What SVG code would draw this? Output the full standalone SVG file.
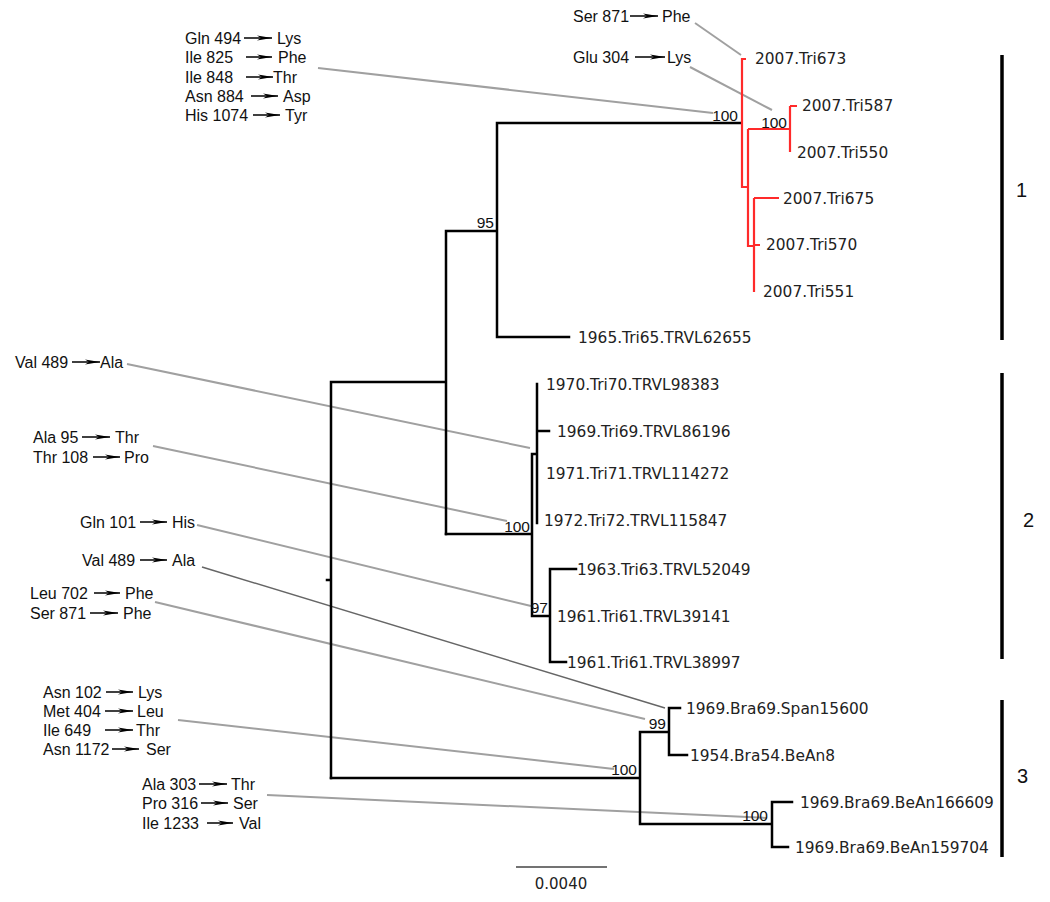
<svg xmlns="http://www.w3.org/2000/svg" width="1050" height="902" viewBox="0 0 1050 902">
<style>
.ann{font-family:"Liberation Sans",Arial,sans-serif;font-size:16px;fill:#111}
.tax{font-family:"DejaVu Sans",Verdana,sans-serif;font-size:15.4px;fill:#222}
.bs{font-family:"Liberation Sans",Arial,sans-serif;font-size:15.5px;fill:#111;text-anchor:end}
.cl{font-family:"Liberation Sans",Arial,sans-serif;font-size:20px;fill:#111}
.br{stroke:#000;stroke-width:2.5;fill:none;stroke-linecap:square}
.red{stroke:#ff2a2a;stroke-width:2.2;fill:none}
.con{stroke:#a0a0a0;stroke-width:2;fill:none}
.con2{stroke:#666;stroke-width:1.5;fill:none}
.arr{stroke:#000;stroke-width:1.5;marker-end:url(#ah)}
.bar{stroke:#000;stroke-width:3.5}
</style>
<defs>
<marker id="ah" markerUnits="userSpaceOnUse" markerWidth="15" markerHeight="8" refX="15" refY="4" orient="auto">
<path d="M0,1.5 L15,4 L0,6.5 L4,4 z" fill="#000"/>
</marker>
</defs>

<g id="connectors">
<line class="con" x1="318" y1="68" x2="713" y2="113"/>
<line class="con" x1="695" y1="23" x2="741" y2="55"/>
<line class="con" x1="690" y1="67" x2="772" y2="110"/>
<line class="con" x1="127" y1="364" x2="530" y2="448"/>
<line class="con" x1="153" y1="446" x2="507" y2="521"/>
<line class="con" x1="197" y1="525" x2="531" y2="606"/>
<line class="con2" x1="202" y1="567" x2="665" y2="708"/>
<line class="con" x1="155" y1="602" x2="645" y2="719"/>
<line class="con" x1="178" y1="720" x2="614" y2="769"/>
<line class="con" x1="267" y1="795" x2="767" y2="818"/>
</g>

<g id="tree">
<path class="br" d="M331,382 V778 M327,580 H331 M331,382 H446 M446,231 V534 M446,231 H497 M497,123 V337 M497,123 H741 M497,337 H569"/>
<path class="br" d="M446,534 H532 M532,454 V616 M532,454 H537 M537,384 V523 M537,431 H549 M532,616 H550 M550,569 V662 M550,569 H576 M550,662 H566"/>
<path class="br" d="M331,778 H640 M640,732 V824 M640,732 H669 M669,708 V755 M669,708 H680 M669,755 H687 M640,824 H772 M772,802 V847 M772,802 H792 M772,847 H788"/>
<path class="red" d="M746,59 H742 V187 H748 M748,129 V246 H754 M748,129 H790 M790,106 V152 M790,106 H797 M754,198 V292 M754,198 H779 M754,245 H760"/>
</g>

<g id="bootstrap">
<text class="bs" x="738" y="121">100</text>
<text class="bs" x="787" y="128">100</text>
<text class="bs" x="494" y="228">95</text>
<text class="bs" x="530" y="532">100</text>
<text class="bs" x="548" y="613">97</text>
<text class="bs" x="666" y="729">99</text>
<text class="bs" x="637" y="775">100</text>
<text class="bs" x="768" y="821">100</text>
</g>

<g id="taxa">
<text class="tax" x="755" y="64">2007.Tri673</text>
<text class="tax" x="802" y="111">2007.Tri587</text>
<text class="tax" x="797" y="158">2007.Tri550</text>
<text class="tax" x="783" y="204">2007.Tri675</text>
<text class="tax" x="766" y="250">2007.Tri570</text>
<text class="tax" x="763" y="297">2007.Tri551</text>
<text class="tax" x="578" y="343">1965.Tri65.TRVL62655</text>
<text class="tax" x="546" y="390">1970.Tri70.TRVL98383</text>
<text class="tax" x="557" y="437">1969.Tri69.TRVL86196</text>
<text class="tax" x="546" y="479">1971.Tri71.TRVL114272</text>
<text class="tax" x="544" y="526">1972.Tri72.TRVL115847</text>
<text class="tax" x="577" y="575">1963.Tri63.TRVL52049</text>
<text class="tax" x="557" y="622">1961.Tri61.TRVL39141</text>
<text class="tax" x="567" y="668">1961.Tri61.TRVL38997</text>
<text class="tax" x="686" y="714">1969.Bra69.Span15600</text>
<text class="tax" x="690" y="761">1954.Bra54.BeAn8</text>
<text class="tax" x="800" y="808">1969.Bra69.BeAn166609</text>
<text class="tax" x="795" y="853">1969.Bra69.BeAn159704</text>
</g>

<g id="annotations">
<text class="ann" x="185" y="44">Gln 494</text><line class="arr" x1="244" y1="38" x2="272" y2="38"/><text class="ann" x="277" y="44">Lys</text>
<text class="ann" x="185" y="63">Ile 825</text><line class="arr" x1="246" y1="57" x2="272" y2="57"/><text class="ann" x="278" y="63">Phe</text>
<text class="ann" x="185" y="83">Ile 848</text><line class="arr" x1="246" y1="77" x2="273" y2="77"/><text class="ann" x="273" y="83">Thr</text>
<text class="ann" x="185" y="102">Asn 884</text><line class="arr" x1="251" y1="96" x2="278" y2="96"/><text class="ann" x="283" y="102">Asp</text>
<text class="ann" x="185" y="121">His 1074</text><line class="arr" x1="253" y1="115" x2="280" y2="115"/><text class="ann" x="285" y="121">Tyr</text>

<text class="ann" x="573" y="22">Ser 871</text><line class="arr" x1="630" y1="16" x2="658" y2="16"/><text class="ann" x="662" y="22">Phe</text>
<text class="ann" x="573" y="63">Glu 304</text><line class="arr" x1="635" y1="57" x2="665" y2="57"/><text class="ann" x="667" y="63">Lys</text>

<text class="ann" x="15" y="368">Val 489</text><line class="arr" x1="72" y1="362" x2="100" y2="362"/><text class="ann" x="100" y="368">Ala</text>

<text class="ann" x="33" y="443">Ala 95</text><line class="arr" x1="82" y1="437" x2="110" y2="437"/><text class="ann" x="115" y="443">Thr</text>
<text class="ann" x="33" y="463">Thr 108</text><line class="arr" x1="93" y1="457" x2="120" y2="457"/><text class="ann" x="124" y="463">Pro</text>

<text class="ann" x="80" y="528">Gln 101</text><line class="arr" x1="140" y1="522" x2="167" y2="522"/><text class="ann" x="172" y="528">His</text>
<text class="ann" x="82" y="566">Val 489</text><line class="arr" x1="140" y1="560" x2="167" y2="560"/><text class="ann" x="172" y="566">Ala</text>

<text class="ann" x="30" y="599">Leu 702</text><line class="arr" x1="94" y1="593" x2="120" y2="593"/><text class="ann" x="125" y="599">Phe</text>
<text class="ann" x="30" y="619">Ser 871</text><line class="arr" x1="90" y1="613" x2="118" y2="613"/><text class="ann" x="123" y="619">Phe</text>

<text class="ann" x="43" y="698">Asn 102</text><line class="arr" x1="106" y1="692" x2="133" y2="692"/><text class="ann" x="138" y="698">Lys</text>
<text class="ann" x="43" y="717">Met 404</text><line class="arr" x1="105" y1="711" x2="133" y2="711"/><text class="ann" x="137" y="717">Leu</text>
<text class="ann" x="43" y="736">Ile 649</text><line class="arr" x1="105" y1="730" x2="133" y2="730"/><text class="ann" x="136" y="736">Thr</text>
<text class="ann" x="43" y="755">Asn 1172</text><line class="arr" x1="112" y1="749" x2="139" y2="749"/><text class="ann" x="146" y="755">Ser</text>

<text class="ann" x="142" y="790">Ala 303</text><line class="arr" x1="199" y1="784" x2="227" y2="784"/><text class="ann" x="231" y="790">Thr</text>
<text class="ann" x="142" y="809">Pro 316</text><line class="arr" x1="201" y1="803" x2="228" y2="803"/><text class="ann" x="233" y="809">Ser</text>
<text class="ann" x="142" y="829">Ile 1233</text><line class="arr" x1="207" y1="823" x2="233" y2="823"/><text class="ann" x="239" y="829">Val</text>
</g>

<g id="clades">
<line class="bar" x1="1002" y1="55" x2="1002" y2="340"/>
<text class="cl" x="1016" y="197">1</text>
<line class="bar" x1="1002" y1="373" x2="1002" y2="659"/>
<text class="cl" x="1023" y="527">2</text>
<line class="bar" x1="1002" y1="700" x2="1002" y2="857"/>
<text class="cl" x="1017" y="783">3</text>
</g>

<g id="scale">
<line x1="516" y1="867" x2="607" y2="867" stroke="#444" stroke-width="1.5"/>
<text class="tax" x="561" y="889" text-anchor="middle" style="font-size:15px">0.0040</text>
</g>
</svg>
